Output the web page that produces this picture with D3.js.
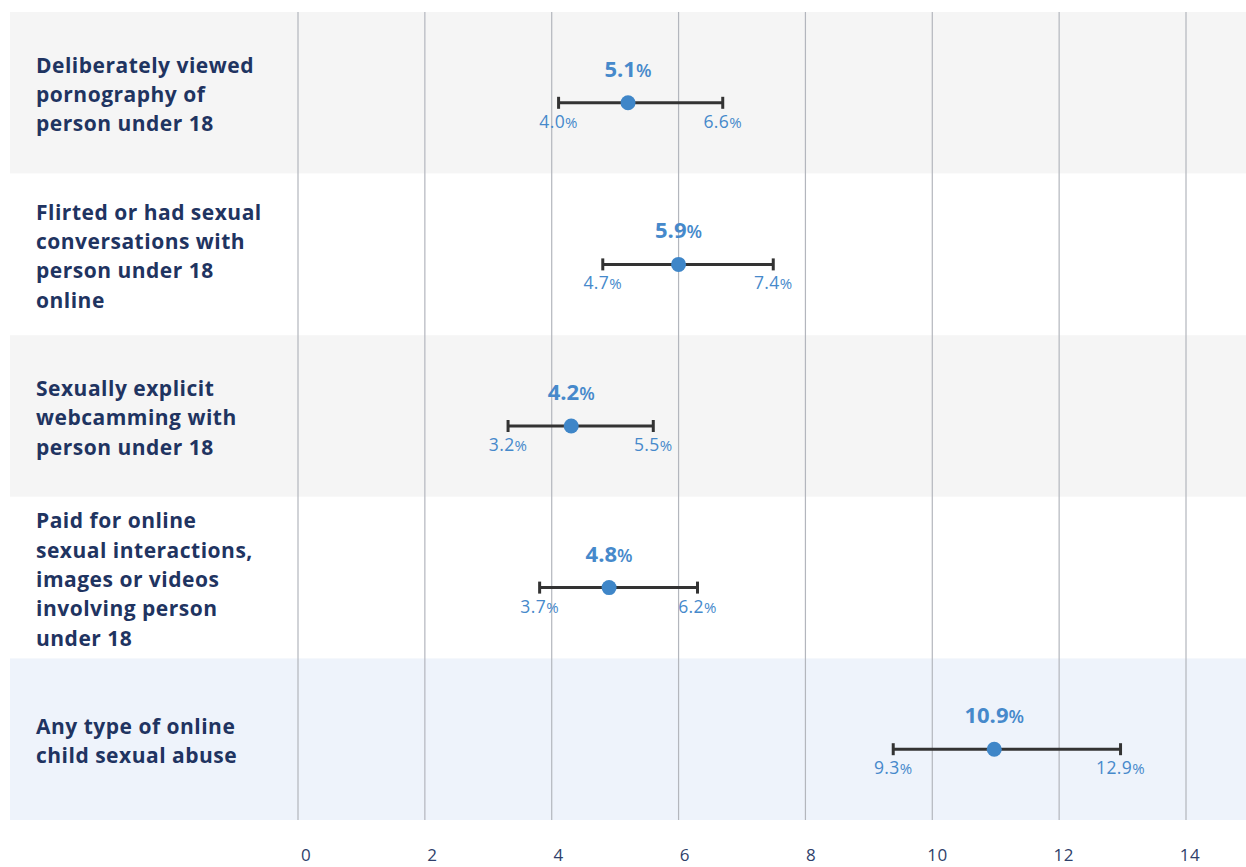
<!DOCTYPE html>
<html lang="en">
<head>
  <meta charset="UTF-8">
  <title>Online child sexual abuse</title>
  <script src="https://d3js.org/d3.v7.min.js"></script>
  <style type="text/css">
    body { margin: 0; background: #fff; }
    .cat { font-family: "Open Sans", sans-serif; font-weight: 700; font-size: 21px; letter-spacing: 0.5px; fill: #1f3461; }
    .grid { stroke: #b3b6bd; stroke-width: 1.2; }
    .tick-label { font-family: "Open Sans", sans-serif; font-size: 17px; letter-spacing: 0.5px; fill: #2f3f6a; }
    .val { font-family: "Open Sans", sans-serif; font-weight: 700; font-size: 22px; fill: #4689cb; }
    .ci { font-family: "Open Sans", sans-serif; font-size: 17.5px; letter-spacing: 0.4px; fill: #4689cb; }
    .err { stroke: #333; stroke-width: 3; fill: none; }
    .dot { fill: #3f86c8; }
  </style>
</head>
<body>
<script>

  // data
  var categories = [
    ["Deliberately viewed", "pornography of", "person under 18"],
    ["Flirted or had sexual", "conversations with", "person under 18", "online"],
    ["Sexually explicit", "webcamming with", "person under 18"],
    ["Paid for online", "sexual interactions,", "images or videos", "involving person", "under 18"],
    ["Any type of online", "child sexual abuse"]
  ];
  var values = [5.1, 5.9, 4.2, 4.8, 10.9];
  var lower  = [4.0, 4.7, 3.2, 3.7, 9.3];
  var upper  = [6.6, 7.4, 5.5, 6.2, 12.9];
  var tickValues = [0, 2, 4, 6, 8, 10, 12, 14];
  var rowFills = ["#f5f5f5", "#ffffff", "#f5f5f5", "#ffffff", "#eef3fb"];

  var width = 1246, height = 867;

  var svg = d3.select("body").append("svg")
    .attr("width", width)
    .attr("height", height);

  // rows
  var yScale = d3.scaleBand()
    .domain(d3.range(categories.length))
    .range([12, 820])
    .padding(0);

  // data scale and the (slightly shifted) gridline scale
  var xScale = d3.scaleLinear().domain([0, 14]).range([306, 1190]);
  var gridScale = d3.scaleLinear().domain([0, 14]).range([298, 1186]);

  svg.selectAll(".row")
    .data(categories)
    .enter().append("rect")
    .attr("class", "row")
    .attr("x", 10)
    .attr("y", function(d, i) { return yScale(i); })
    .attr("width", width - 10)
    .attr("height", yScale.bandwidth())
    .attr("fill", function(d, i) { return rowFills[i]; });

  // gridlines
  svg.selectAll(".grid")
    .data(tickValues)
    .enter().append("line")
    .attr("class", "grid")
    .attr("x1", function(d) { return gridScale(d); })
    .attr("x2", function(d) { return gridScale(d); })
    .attr("y1", 12)
    .attr("y2", 820);

  // tick labels
  svg.selectAll(".tick-label")
    .data(tickValues)
    .enter().append("text")
    .attr("class", "tick-label")
    .attr("x", function(d) { return xScale(d); })
    .attr("y", 861)
    .attr("text-anchor", "middle")
    .text(function(d) { return d; });

  // category labels
  var lineH = 29.3;
  categories.forEach(function(lines, i) {
    var cy = yScale(i) + yScale.bandwidth() / 2 + 2;
    var top = cy - (lines.length - 1) * lineH / 2;
    var t = svg.append("text")
      .attr("class", "cat")
      .attr("x", 36);
    lines.forEach(function(l, j) {
      t.append("tspan")
        .attr("x", 36)
        .attr("y", top + j * lineH)
        .attr("dy", "0.35em")
        .text(l);
    });
  });

  // error bars, points and labels
  values.forEach(function(v, i) {
    var cy = yScale(i) + yScale.bandwidth() / 2 + 10;
    var g = svg.append("g");

    g.append("line").attr("class", "err")
      .attr("x1", xScale(lower[i])).attr("x2", xScale(upper[i]))
      .attr("y1", cy).attr("y2", cy);
    [lower[i], upper[i]].forEach(function(e) {
      g.append("line").attr("class", "err")
        .attr("x1", xScale(e)).attr("x2", xScale(e))
        .attr("y1", cy - 6).attr("y2", cy + 6);
    });

    g.append("circle").attr("class", "dot")
      .attr("cx", xScale(v)).attr("cy", cy).attr("r", 7.5);

    var vt = g.append("text").attr("class", "val")
      .attr("x", xScale(v)).attr("y", cy - 26)
      .attr("text-anchor", "middle");
    vt.append("tspan").text(v.toFixed(1));
    vt.append("tspan").attr("font-size", "18px").attr("font-weight", 600).text("%");

    [lower[i], upper[i]].forEach(function(e) {
      var ct = g.append("text").attr("class", "ci")
        .attr("x", xScale(e)).attr("y", cy + 25)
        .attr("text-anchor", "middle");
      ct.append("tspan").text(e.toFixed(1));
      ct.append("tspan").attr("font-size", "15px").text("%");
    });
  });

</script>
</body>
</html>
